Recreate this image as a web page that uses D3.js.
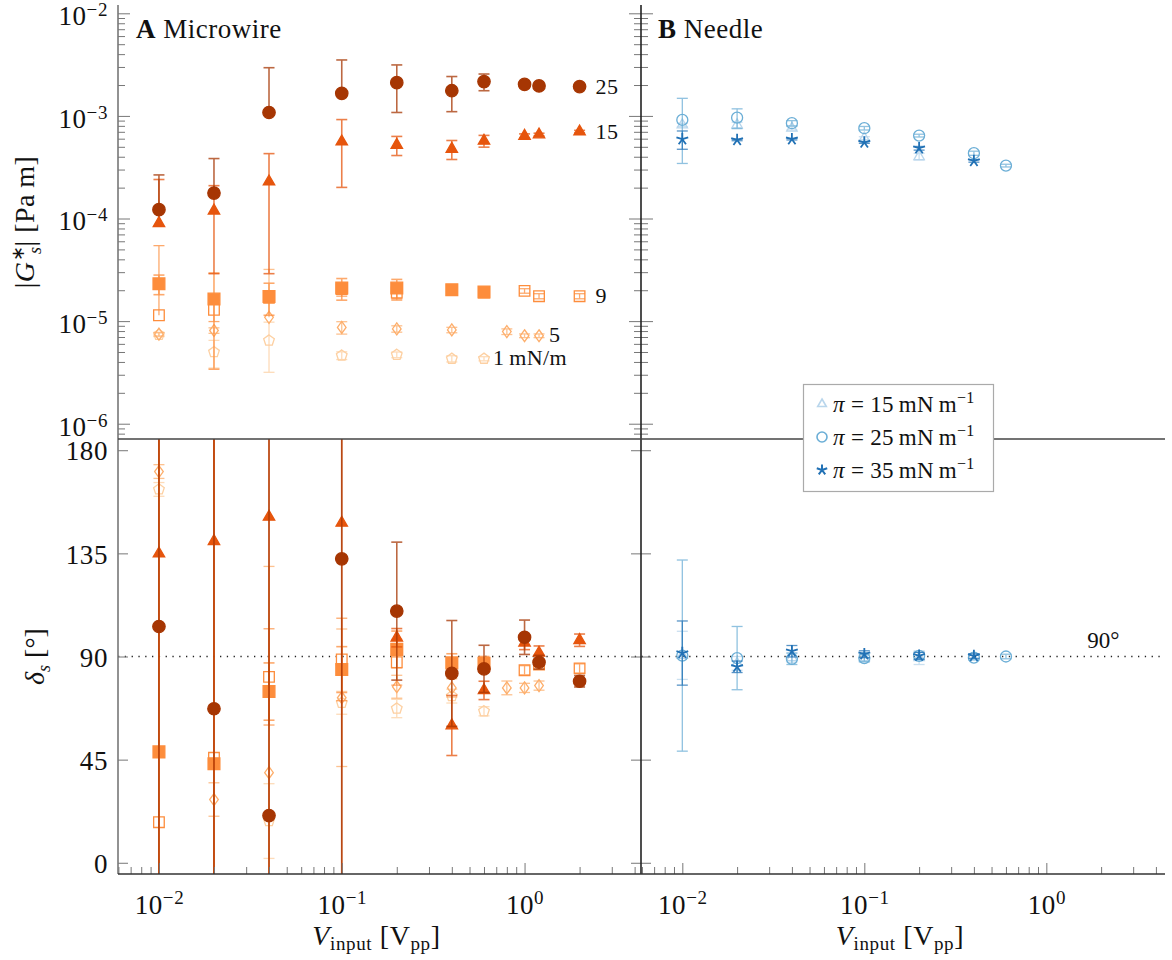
<!DOCTYPE html>
<html>
<head>
<meta charset="utf-8">
<title>Microwire vs Needle</title>
<script src="https://cdn.jsdelivr.net/npm/d3@7"></script>
<style>
  body { margin: 0; background: #fff; }
  svg text { font-family: "Liberation Serif", "Times New Roman", serif; fill: #111; }
  .tick line { stroke: #777; stroke-width: 1; }
  .domain { display: none; }
</style>
</head>
<body>
<svg id="chart" width="1172" height="960"></svg>
<script>
// ---- Microwire (panel A) ----
// pi = 1 mN/m (open pentagon)
const mw1X    = [0.01, 0.02, 0.04, 0.1, 0.2, 0.4, 0.6];
const mw1G    = [7.35e-6, 4.99e-6, 6.47e-6, 4.62e-6, 4.70e-6, 4.30e-6, 4.30e-6];
const mw1GErr = [0.3e-6, 1.5e-6, 3.3e-6, 0.4e-6, 0.3e-6, 0.3e-6, 0.2e-6];
const mw1D    = [162.9, null, 18.2, 69.8, 67.3, 72.7, 66.1];
const mw1DErr = [3, 0, 16.3, 5, 4, 3, 2];
// pi = 5 (open diamond)
const mw5X    = [0.01, 0.02, 0.04, 0.1, 0.2, 0.4, 0.8, 1.0, 1.2];
const mw5G    = [7.46e-6, 8.1e-6, 1.09e-5, 8.67e-6, 8.4e-6, 8.2e-6, 7.9e-6, 7.2e-6, 7.2e-6];
const mw5GErr = [0.3e-6, 0.5e-6, 2.1e-5, 1.2e-6, 0.6e-6, 0.5e-6, 0.5e-6, 0.3e-6, 0.3e-6];
const mw5D    = [170.7, 27.6, 39.3, 72.0, 76.8, 76.3, 76.3, 76.3, 77.3];
const mw5DErr = [3, 7.3, 90, 30, 5, 4, 3, 2, 2];
// pi = 9, first run (filled square)
const mw9aX    = [0.01, 0.02, 0.04, 0.1, 0.2, 0.4, 0.6];
const mw9aG    = [2.31e-5, 1.64e-5, 1.74e-5, 2.10e-5, 2.10e-5, 2.02e-5, 1.92e-5];
const mw9aGErr = [0.5e-5, 1.3e-5, 0.6e-5, 0.5e-5, 0.45e-5, 0.1e-5, 0.1e-5];
const mw9aD    = [48.4, 43.2, 74.7, 84.3, 93.1, 87.2, 87.0];
const mw9aDErr = [300, 300, 12.5, 10, 8, 4, 3];
// pi = 9, second run (open square)
const mw9bX    = [0.01, 0.02, 0.04, 0.1, 0.2, 0.6, 1.0, 1.2, 2.0];
const mw9bG    = [1.14e-5, 1.29e-5, 1.70e-5, 2.05e-5, 1.90e-5, 1.90e-5, 1.97e-5, 1.75e-5, 1.75e-5];
const mw9bGErr = [4.3e-5, 0.3e-5, 0.2e-5, 0.3e-5, 0.3e-5, 0.1e-5, 0.1e-5, 0.1e-5, 0.1e-5];
const mw9bD    = [17.7, 45.8, 81.1, 88.7, 87.5, 86.1, 84.0, 86.5, 84.8];
const mw9bDErr = [300, 300, 21, 18, 10, 3, 2, 2, 2];
// pi = 15 (filled triangle)
const mw15X    = [0.01, 0.02, 0.04, 0.1, 0.2, 0.4, 0.6, 1.0, 1.2, 2.0];
const mw15G    = [9.0e-5, 1.19e-4, 2.29e-4, 5.61e-4, 5.21e-4, 4.76e-4, 5.71e-4, 6.38e-4, 6.58e-4, 7.03e-4];
const mw15GErr = [1.5e-4, 0.9e-4, 2.0e-4, 3.6e-4, 1.1e-4, 1.0e-4, 0.75e-4, 0.3e-4, 0.2e-4, 0.2e-4];
const mw15D    = [134.9, 140.3, 150.9, 148.3, 98.2, 59.9, 75.2, 96.0, 91.6, 97.1];
const mw15DErr = [300, 300, 300, 300, 4, 13.1, 4, 3, 3, 2.7];
// pi = 25 (filled circle)
const mw25X    = [0.01, 0.02, 0.04, 0.1, 0.2, 0.4, 0.6, 1.0, 1.2, 2.0];
const mw25G    = [1.22e-4, 1.77e-4, 1.08e-3, 1.66e-3, 2.11e-3, 1.76e-3, 2.16e-3, 2.03e-3, 1.96e-3, 1.93e-3];
const mw25GErr = [1.44e-4, 2.07e-4, 1.87e-3, 1.85e-3, 1.03e-3, 0.66e-3, 0.4e-3, 0.15e-3, 0.05e-3, 0.05e-3];
const mw25D    = [103.1, 67.2, 20.6, 132.6, 109.8, 82.6, 84.6, 98.4, 87.5, 79.2];
const mw25DErr = [300, 300, 300, 300, 30.1, 23.1, 10.3, 7.5, 3, 2.5];

// ---- Needle (panel B) ----
const nd15X    = [0.01, 0.02, 0.04, 0.1, 0.2];
const nd15G    = [8.17e-4, 8.17e-4, 7.59e-4, 6.07e-4, 4.01e-4];
const nd15GErr = [0.3e-4, 0.5e-4, 0.3e-4, 0.2e-4, 0.3e-4];
const nd15D    = [90.5, 87.0, 89.5, 89.5, 89.5];
const nd15DErr = [10.5, 3, 2, 2, 3];
const nd25X    = [0.01, 0.02, 0.04, 0.1, 0.2, 0.4, 0.6];
const nd25G    = [9.14e-4, 9.62e-4, 8.49e-4, 7.59e-4, 6.43e-4, 4.33e-4, 3.28e-4];
const nd25GErr = [5.7e-4, 2.1e-4, 0.5e-4, 0.3e-4, 0.2e-4, 0.2e-4, 0.1e-4];
const nd25D    = [90.4, 89.3, 89.0, 89.3, 90.3, 89.5, 90.0];
const nd25DErr = [41.7, 13.8, 2.5, 1.5, 1.5, 1, 1];
const nd35X    = [0.01, 0.02, 0.04, 0.1, 0.2, 0.4];
const nd35G    = [5.93e-4, 5.83e-4, 5.93e-4, 5.50e-4, 4.84e-4, 3.64e-4];
const nd35GErr = [1.2e-4, 0.1e-4, 0.1e-4, 0.1e-4, 0.2e-4, 0.1e-4];
const nd35D    = [91.5, 85.5, 92.3, 91.0, 90.3, 90.2];
const nd35DErr = [14, 2.5, 2.5, 1.5, 1.5, 1];

const gTicks = [1e-6, 1e-5, 1e-4, 1e-3, 1e-2];
const dTicks = [0, 45, 90, 135, 180];
const vTicks = [0.01, 0.1, 1];
const legendLabels = ['15', '25', '35'];

// ---- layout ----
const L = 118, M = 641, R = 1165, T = 5, MID = 439, B = 874;
const svg = d3.select('#chart');

const xA = d3.scaleLog().domain([10 ** -2.224, 10 ** 0.637]).range([L, M]);
const xB = d3.scaleLog().domain([10 ** -2.227, 10 ** 0.652]).range([M, R]);
const yG = d3.scaleLog().domain([10 ** -6.149, 10 ** -1.919]).range([MID, T]);
const yD = d3.scaleLinear().domain([-4.9, 184.9]).range([B, MID]);

function mk(x, g, gErr, d, dErr, color, mark, filled, size) {
    return { x, g, gErr, d, dErr, color, mark, filled, size };
}
const microwire = [
    mk(mw1X, mw1G, mw1GErr, mw1D, mw1DErr, '#fdd0a2', 'pentagon', false, 5.6),
    mk(mw5X, mw5G, mw5GErr, mw5D, mw5DErr, '#fdae6b', 'diamond', false, 6),
    mk(mw9bX, mw9bG, mw9bGErr, mw9bD, mw9bDErr, '#fd8d3c', 'square', false, 5.3),
    mk(mw9aX, mw9aG, mw9aGErr, mw9aD, mw9aDErr, '#fd8d3c', 'square', true, 5.9),
    mk(mw15X, mw15G, mw15GErr, mw15D, mw15DErr, '#e6550d', 'triangle', true, 6.6),
    mk(mw25X, mw25G, mw25GErr, mw25D, mw25DErr, '#a63603', 'circle', true, 6.2)
];
const needle = [
    mk(nd15X, nd15G, nd15GErr, nd15D, nd15DErr, '#b9d6ec', 'triangle', false, 6),
    mk(nd25X, nd25G, nd25GErr, nd25D, nd25DErr, '#6baed6', 'circle', false, 5.5),
    mk(nd35X, nd35G, nd35GErr, nd35D, nd35DErr, '#2171b5', 'star', false, 6.2)
];

function markPath(type, s) {
    const poly = (n, r, rot) => 'M' + d3.range(n).map(k => {
        const a = rot + k * 2 * Math.PI / n;
        return [r * Math.cos(a), r * Math.sin(a)].join(',');
    }).join('L') + 'Z';
    switch (type) {
        case 'circle': return `M${s},0A${s},${s} 0 1,1 ${-s},0A${s},${s} 0 1,1 ${s},0Z`;
        case 'square': return `M${-s},${-s}H${s}V${s}H${-s}Z`;
        case 'diamond': return `M0,${-s}L${0.72 * s},0L0,${s}L${-0.72 * s},0Z`;
        case 'triangle': return poly(3, s, -Math.PI / 2);
        case 'pentagon': return poly(5, s, -Math.PI / 2);
        case 'star': return d3.range(5).map(k => {
            const a = -Math.PI / 2 + k * 2 * Math.PI / 5;
            return `M0,0L${s * Math.cos(a)},${s * Math.sin(a)}`;
        }).join('');
    }
}

// clip regions
const defs = svg.append('defs');
const clips = { aTop: [L, T, M - L, MID - T], aBot: [L, MID, M - L, B - MID],
                bTop: [M, T, R - M, MID - T], bBot: [M, MID, R - M, B - MID] };
Object.entries(clips).forEach(([id, r]) => {
    defs.append('clipPath').attr('id', id).append('rect')
        .attr('x', r[0]).attr('y', r[1]).attr('width', r[2]).attr('height', r[3]);
});

// 90 degree reference line
svg.append('line')
    .attr('x1', L).attr('x2', R).attr('y1', yD(90)).attr('y2', yD(90))
    .attr('stroke', '#222').attr('stroke-width', 1.3).attr('stroke-dasharray', '1.3,5.5');

function drawPanel(series, xs, ys, key, errKey, clipId, logY) {
    const g = svg.append('g').attr('clip-path', `url(#${clipId})`);
    series.forEach(s => {
        const pts = s.x.map((x, i) => ({ x, v: s[key][i], e: s[errKey][i] })).filter(p => p.v != null);
        const bars = g.append('g').attr('stroke', s.color).attr('stroke-width', s.filled ? 1.6 : 1.3).attr('opacity', 0.75);
        pts.forEach(p => {
            if (!p.e) return;
            const cx = xs(p.x);
            const yUp = ys(p.v + p.e);
            const lowOk = !logY || p.v - p.e > 0;
            const yLo = lowOk ? ys(p.v - p.e) : ys(p.v);
            bars.append('line').attr('x1', cx).attr('x2', cx).attr('y1', yUp).attr('y2', yLo);
            bars.append('line').attr('x1', cx - 5.5).attr('x2', cx + 5.5).attr('y1', yUp).attr('y2', yUp);
            if (lowOk) bars.append('line').attr('x1', cx - 5.5).attr('x2', cx + 5.5).attr('y1', yLo).attr('y2', yLo);
        });
        g.append('g').selectAll('path').data(pts).join('path')
            .attr('transform', p => `translate(${xs(p.x)},${ys(p.v)})`)
            .attr('d', markPath(s.mark, s.size))
            .attr('fill', s.filled ? s.color : 'none')
            .attr('stroke', s.color)
            .attr('stroke-width', s.mark === 'star' ? 1.8 : 1.3);
    });
}
drawPanel(microwire, xA, yG, 'g', 'gErr', 'aTop', true);
drawPanel(microwire, xA, yD, 'd', 'dErr', 'aBot', false);
drawPanel(needle, xB, yG, 'g', 'gErr', 'bTop', true);
drawPanel(needle, xB, yD, 'd', 'dErr', 'bBot', false);

// ---- axes ----
const fs = 27;
function supLabel(sel, base, exp, raise) {
    sel.each(function (d) {
        const t = d3.select(this).text(null);
        t.append('tspan').text(base(d));
        t.append('tspan').attr('dy', -raise).attr('font-size', 19).text(exp(d));
    });
}
const expOf = d => { const e = Math.round(Math.log10(d)); return e < 0 ? '\u2212' + (-e) : String(e); };
const gMinor = yG.ticks().filter(v => !gTicks.includes(v));
const vMinorA = xA.ticks().filter(v => !vTicks.includes(v));
const vMinorB = xB.ticks().filter(v => !vTicks.includes(v));

// left of A, top
const gl = svg.append('g').attr('transform', `translate(${L},0)`)
    .call(d3.axisLeft(yG).tickValues(gTicks).tickSize(-12).tickPadding(10).tickFormat(''));
gl.selectAll('text').attr('font-size', fs).attr('dy', '0.42em').attr('letter-spacing', 0.6)
    .call(supLabel, () => '10', expOf, 9);
svg.append('g').attr('transform', `translate(${L},0)`)
    .call(d3.axisLeft(yG).tickValues(gMinor).tickSize(-7).tickFormat(''));
// right of A and left of B
[[d3.axisRight, M], [d3.axisLeft, M]].forEach(([ax, x]) => {
    svg.append('g').attr('transform', `translate(${x},0)`).call(ax(yG).tickValues(gTicks).tickSize(-12).tickFormat(''));
    svg.append('g').attr('transform', `translate(${x},0)`).call(ax(yG).tickValues(gMinor).tickSize(-7).tickFormat(''));
    svg.append('g').attr('transform', `translate(${x},0)`).call(ax(yD).tickValues(dTicks).tickSize(-10).tickFormat(''));
});
// left of A, bottom
svg.append('g').attr('transform', `translate(${L},0)`)
    .call(d3.axisLeft(yD).tickValues(dTicks).tickSize(-10).tickPadding(10))
    .selectAll('text').attr('font-size', fs).attr('letter-spacing', 0.6).attr('dy', '0.36em')
    .attr('font-family', '"Liberation Serif", serif').attr('fill', '#111');
// bottom x axes
[[xA, vMinorA], [xB, vMinorB]].forEach(([xs, minor]) => {
    const gx = svg.append('g').attr('transform', `translate(0,${B})`)
        .call(d3.axisBottom(xs).tickValues(vTicks).tickSize(-11).tickPadding(21).tickFormat(''));
    gx.selectAll('text').attr('font-size', fs).attr('letter-spacing', 0.6).call(supLabel, () => '10', expOf, 10);
    svg.append('g').attr('transform', `translate(0,${B})`)
        .call(d3.axisBottom(xs).tickValues(minor).tickSize(-7).tickFormat(''));
});

// frame lines
svg.append('line').attr('x1', L).attr('x2', L).attr('y1', T).attr('y2', B).attr('stroke', '#777').attr('stroke-width', 1.6);
svg.append('line').attr('x1', M).attr('x2', M).attr('y1', T).attr('y2', B).attr('stroke', '#222').attr('stroke-width', 1.6);
svg.append('line').attr('x1', L).attr('x2', R).attr('y1', MID).attr('y2', MID).attr('stroke', '#444').attr('stroke-width', 1.6);
svg.append('line').attr('x1', L).attr('x2', R).attr('y1', B).attr('y2', B).attr('stroke', '#333').attr('stroke-width', 1.6);

// ---- titles and labels ----
function title(x, letter, word) {
    const t = svg.append('text').attr('x', x).attr('y', 38).attr('font-size', fs).attr('letter-spacing', 0.5);
    t.append('tspan').attr('font-weight', 'bold').text(letter);
    t.append('tspan').text(' ' + word);
}
title(136, 'A', 'Microwire');
title(658, 'B', 'Needle');

// series annotations in panel A
const lastOf = (xArr, gArr, i) => [xA(xArr[i]), yG(gArr[i])];
[[lastOf(mw25X, mw25G, 9), '25', 16, 7.5],
 [lastOf(mw15X, mw15G, 9), '15', 16, 7],
 [lastOf(mw9bX, mw9bG, 8), '9', 16, 7],
 [lastOf(mw5X, mw5G, 8), '5', 10, 6],
 [lastOf(mw1X, mw1G, 6), '1\u2009mN/m', 9, 6]].forEach(([p, txt, dx, dy]) => {
    svg.append('text').attr('x', p[0] + dx).attr('y', p[1] + dy).attr('font-size', 22)
        .attr('letter-spacing', 0.4).text(txt);
});
svg.append('text').attr('x', xB(1.68)).attr('y', yD(90) - 9).attr('font-size', 23).text('90\u00b0');

// x labels
[xA, xB].forEach(xs => {
    const cx = (xs.range()[0] + xs.range()[1]) / 2 - 3;
    const t = svg.append('text').attr('x', cx).attr('y', 945).attr('font-size', 28)
        .attr('text-anchor', 'middle').attr('letter-spacing', 0.6);
    t.append('tspan').attr('font-style', 'italic').text('V');
    t.append('tspan').attr('font-size', 19).attr('dy', 5).text('input');
    t.append('tspan').attr('dy', -5).text(' [V');
    t.append('tspan').attr('font-size', 19).attr('dy', 5).text('pp');
    t.append('tspan').attr('dy', -5).text(']');
});
// y labels
const yl1 = svg.append('text').attr('transform', 'translate(34,222) rotate(-90)')
    .attr('font-size', 28).attr('text-anchor', 'middle').attr('letter-spacing', 0.5);
yl1.append('tspan').text('|');
yl1.append('tspan').attr('font-style', 'italic').text('G');
yl1.append('tspan').attr('font-size', 18).attr('dy', -10).text('\u2217');
yl1.append('tspan').attr('font-size', 18).attr('font-style', 'italic').attr('dx', -8).attr('dy', 17).text('s');
yl1.append('tspan').attr('dy', -7).text('| [Pa\u2009m]');
const yl2 = svg.append('text').attr('transform', `translate(44,${yD(90)}) rotate(-90)`)
    .attr('font-size', 28).attr('text-anchor', 'middle');
yl2.append('tspan').attr('font-style', 'italic').text('\u03b4');
yl2.append('tspan').attr('font-size', 18).attr('font-style', 'italic').attr('dy', 6).text('s');
yl2.append('tspan').attr('dy', -6).text(' [\u00b0]');

// ---- legend ----
const lg = svg.append('g');
lg.append('rect').attr('x', 803.5).attr('y', 384.5).attr('width', 190).attr('height', 107)
    .attr('fill', '#fff').attr('stroke', '#aaa').attr('stroke-width', 1.2);
needle.forEach((s, i) => {
    const y = 404 + i * 33;
    lg.append('path').attr('transform', `translate(822,${y})`)
        .attr('d', markPath(s.mark, s.mark === 'star' ? 5.5 : 5))
        .attr('fill', 'none').attr('stroke', s.color).attr('stroke-width', s.mark === 'star' ? 2 : 1.6);
    const t = lg.append('text').attr('x', 833).attr('y', y + 8).attr('font-size', 23).attr('letter-spacing', 0.3);
    t.append('tspan').attr('font-style', 'italic').text('\u03c0');
    t.append('tspan').text(' = ' + legendLabels[i] + '\u2009mN\u2009m');
    t.append('tspan').attr('font-size', 16).attr('dy', -9).text('\u22121');
});
</script>
</body>
</html>
